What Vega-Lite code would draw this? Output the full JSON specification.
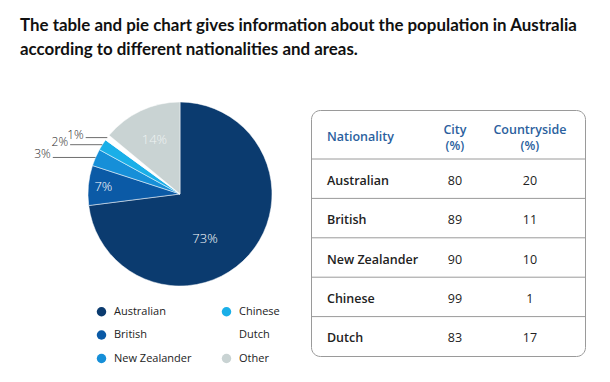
{
  "$schema": "https://vega.github.io/schema/vega-lite/v6.json",
  "background": "white",
  "padding": {"left": 20, "top": 16, "right": 0, "bottom": 0},
  "title": {
    "text": ["The table and pie chart gives information about the population in Australia", "according to different nationalities and areas."],
    "anchor": "start", "frame": "group", "font": "Lato", "fontSize": 16.9, "fontWeight": "bold", "color": "#111111",
    "lineHeight": 24.5, "baseline": "top", "offset": 42
  },
  "bounds": "flush",
  "spacing": 20,
  "config": {"font": "Open Sans", "view": {"stroke": null}},
  "hconcat": [
    {
      "width": 271, "height": 246,
      "data": {"values": [
        {"nationality": "Australian", "pct": 73},
        {"nationality": "British", "pct": 7},
        {"nationality": "New Zealander", "pct": 3},
        {"nationality": "Chinese", "pct": 2},
        {"nationality": "Dutch", "pct": 1},
        {"nationality": "Other", "pct": 14}
      ]},
      "transform": [
        {"window": [{"op": "sum", "field": "pct", "as": "cum"}], "frame": [null, 0]},
        {"calculate": "datum.cum - datum.pct", "as": "start"},
        {"calculate": "datum.cum - datum.pct / 2", "as": "mid"},
        {"calculate": "sin(datum.mid * PI / 50)", "as": "ex"},
        {"calculate": "cos(datum.mid * PI / 50)", "as": "ey"},
        {"calculate": "datum.ex - (0.12 + 0.115 * datum.pct)", "as": "lx"},
        {"calculate": "datum.pct + '%'", "as": "label"}
      ],
      "layer": [
        {
          "mark": {"type": "arc", "outerRadius": 92, "stroke": "white", "strokeWidth": 0.5},
          "encoding": {
            "x": {"datum": 0, "type": "quantitative", "scale": {"domain": [-1.7391, 1.2065], "nice": false, "zero": false}, "axis": null},
            "y": {"datum": 0, "type": "quantitative", "scale": {"domain": [-1.7609, 0.913], "nice": false, "zero": false}, "axis": null},
            "theta": {"field": "start", "type": "quantitative", "scale": {"domain": [0, 100]}, "stack": null},
            "theta2": {"field": "cum"},
            "color": {
              "field": "nationality", "type": "nominal",
              "scale": {
                "domain": ["Australian", "British", "New Zealander", "Chinese", "Dutch", "Other"],
                "range": ["#0b3b6f", "#0b5aa6", "#168fd8", "#1aafe8", "#ffffff", "#c9d3d3"]
              },
              "legend": {
                "orient": "none", "legendX": 76, "legendY": 196, "columns": 2, "title": null,
                "symbolType": "circle", "symbolSize": 90, "symbolStrokeWidth": 0,
                "labelFont": "Open Sans", "labelFontSize": 11, "labelColor": "#222222", "labelOffset": 7,
                "columnPadding": 29, "rowPadding": 11.5
              }
            }
          }
        },
        {
          "transform": [{"filter": "datum.nationality == 'Australian'"}],
          "mark": {"type": "text", "radius": 52, "dx": -14, "dy": 11, "color": "white", "fontSize": 13, "fontWeight": 300},
          "encoding": {
            "x": {"datum": 0, "type": "quantitative"},
            "y": {"datum": 0, "type": "quantitative"},
            "theta": {"field": "mid", "type": "quantitative"},
            "text": {"field": "label"}
          }
        },
        {
          "transform": [{"filter": "datum.nationality == 'British'"}],
          "mark": {"type": "text", "radius": 77, "color": "white", "fontSize": 13, "fontWeight": 300},
          "encoding": {
            "x": {"datum": 0, "type": "quantitative"},
            "y": {"datum": 0, "type": "quantitative"},
            "theta": {"field": "mid", "type": "quantitative"},
            "text": {"field": "label"}
          }
        },
        {
          "transform": [{"filter": "datum.nationality == 'Other'"}],
          "mark": {"type": "text", "radius": 60, "color": "#eef2f2", "fontSize": 13, "fontWeight": 300},
          "encoding": {
            "x": {"datum": 0, "type": "quantitative"},
            "y": {"datum": 0, "type": "quantitative"},
            "theta": {"field": "mid", "type": "quantitative"},
            "text": {"field": "label"}
          }
        },
        {
          "transform": [{"filter": "datum.pct < 5"}],
          "mark": {"type": "rule", "color": "#6e6e6e", "strokeWidth": 1},
          "encoding": {
            "x": {"field": "ex", "type": "quantitative"},
            "x2": {"field": "lx"},
            "y": {"field": "ey", "type": "quantitative"}
          }
        },
        {
          "transform": [{"filter": "datum.pct < 5"}],
          "mark": {"type": "text", "align": "right", "baseline": "alphabetic", "dx": -2, "dy": 1, "color": "#2a2a2a", "fontSize": 12, "fontWeight": 300},
          "encoding": {
            "x": {"field": "lx", "type": "quantitative"},
            "y": {"field": "ey", "type": "quantitative"},
            "text": {"field": "label"}
          }
        }
      ]
    },
    {
      "width": 274, "height": 246,
      "view": {"stroke": "#9a9a9a", "strokeWidth": 1, "cornerRadius": 9},
      "data": {"values": [
        {"nationality": "Nationality", "City": "City\n(%)", "Countryside": "Countryside\n(%)"},
        {"nationality": "Australian", "City": 80, "Countryside": 20},
        {"nationality": "British", "City": 89, "Countryside": 11},
        {"nationality": "New Zealander", "City": 90, "Countryside": 10},
        {"nationality": "Chinese", "City": 99, "Countryside": 1},
        {"nationality": "Dutch", "City": 83, "Countryside": 17}
      ]},
      "transform": [
        {"window": [{"op": "row_number", "as": "rn"}]},
        {"calculate": "datum.rn - 1.5", "as": "yc"},
        {"calculate": "datum.rn - 2", "as": "ysep"}
      ],
      "layer": [
        {
          "transform": [{"filter": "datum.rn > 1"}],
          "mark": {"type": "rule", "color": "#9a9a9a", "strokeWidth": 1},
          "encoding": {
            "y": {"field": "ysep", "type": "quantitative", "scale": {"domain": [-1.2437, 5], "reverse": true, "nice": false, "zero": false}, "axis": null}
          }
        },
        {
          "transform": [{"filter": "datum.rn == 1"}],
          "mark": {"type": "text", "align": "left", "dx": -53, "dy": -2, "fontSize": 12.5, "fontWeight": 600, "color": "#2b5f9e"},
          "encoding": {
            "x": {"datum": "Nationality", "type": "nominal", "scale": {"type": "point", "domain": ["Nationality", "City", "Countryside"], "padding": 0.827, "align": 0.556}, "axis": null},
            "y": {"field": "yc", "type": "quantitative"},
            "text": {"field": "nationality"}
          }
        },
        {
          "transform": [{"filter": "datum.rn == 1"}, {"fold": ["City", "Countryside"], "as": ["key", "value"]}],
          "mark": {"type": "text", "dy": -9, "fontSize": 12.5, "fontWeight": 600, "color": "#2b5f9e", "lineBreak": "\n", "lineHeight": 16},
          "encoding": {
            "x": {"field": "key", "type": "nominal"},
            "y": {"field": "yc", "type": "quantitative"},
            "text": {"field": "value"}
          }
        },
        {
          "transform": [{"filter": "datum.rn > 1"}],
          "mark": {"type": "text", "align": "left", "dx": -53, "dy": 2, "fontSize": 12.5, "fontWeight": 600, "color": "#222222"},
          "encoding": {
            "x": {"datum": "Nationality", "type": "nominal"},
            "y": {"field": "yc", "type": "quantitative"},
            "text": {"field": "nationality"}
          }
        },
        {
          "transform": [{"filter": "datum.rn > 1"}, {"fold": ["City", "Countryside"], "as": ["key", "value"]}],
          "mark": {"type": "text", "dy": 2, "fontSize": 12.5, "color": "#222222"},
          "encoding": {
            "x": {"field": "key", "type": "nominal"},
            "y": {"field": "yc", "type": "quantitative"},
            "text": {"field": "value"}
          }
        }
      ]
    }
  ]
}
